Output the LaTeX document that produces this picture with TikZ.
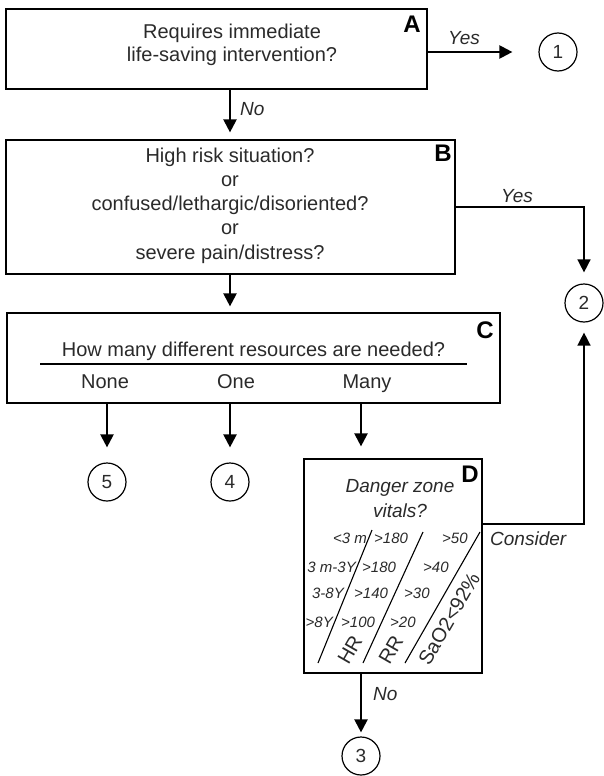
\documentclass[tikz,border=0pt]{standalone}
\usepackage{fontspec}
\setmainfont{Liberation Sans}
\usetikzlibrary{arrows.meta}
\definecolor{txt}{HTML}{2A2A2A}
\begin{document}
\begin{tikzpicture}[x=1pt,y=-1pt,
  box/.style={draw=black, line width=1.2pt, inner sep=0pt, rectangle},
  txt/.style={text=txt, font=\fontsize{20}{24}\selectfont, inner sep=0pt, anchor=base},
  lab/.style={font=\fontsize{24}{24}\selectfont\bfseries, inner sep=0pt, anchor=base},
  yn/.style={text=txt, font=\fontsize{19}{19}\selectfont\itshape, inner sep=0pt, anchor=base west},
  rowl/.style={text=txt, font=\fontsize{15}{15}\selectfont\itshape, inner sep=0pt, anchor=base east},
  rowr/.style={text=txt, font=\fontsize{15}{15}\selectfont\itshape, inner sep=0pt, anchor=base west},
  rot/.style={text=txt, font=\fontsize{20}{20}\selectfont, inner sep=0pt, rotate=60},
  endc/.style={circle, draw=black, line width=1.2pt, minimum size=38pt, inner sep=0pt, font=\fontsize{19}{19}\selectfont, text=txt},
  arr/.style={line width=2.2pt, -{Triangle[length=13pt,width=13pt]}},
  thinarr/.style={line width=1.5pt, -{Triangle[length=13pt,width=13pt]}}]
\useasboundingbox (0,0) rectangle (603,776);

% boxes
\node[box, minimum width=421pt, minimum height=80pt] (A) at (216.5,49) {};
\node[box, minimum width=449pt, minimum height=134pt] (B) at (230.5,207) {};
\node[box, minimum width=493pt, minimum height=90pt] (C) at (253.5,358) {};
\node[box, minimum width=178pt, minimum height=214pt] (D) at (393,566) {};

% end circles
\node[endc] (c1) at (558,52) {1};
\node[endc] (c2) at (584,303) {2};
\node[endc] (c5) at (107,482) {5};
\node[endc] (c4) at (230,482) {4};
\node[endc] (c3) at (361,756) {3};
\coordinate (colx) at (230,0);

% box letters
\node[lab] (LA) at (412,33) {A};
\node[lab] (LB) at (443,161) {B};
\node[lab] (LC) at (485,338) {C};
\node[lab] (LD) at (470,482) {D};

% box A text
\node[txt] (a1) at (232,39) {Requires immediate};
\node[txt] (a2) at (232,62) {life-saving intervention?};

% box B text
\node[txt] (b1) at (230,162) {High risk situation?};
\node[txt] (b2) at (230,186) {or};
\node[txt] (b3) at (230,210) {confused/lethargic/disoriented?};
\node[txt] (b4) at (230,234) {or};
\node[txt] (b5) at (230,259) {severe pain/distress?};

% box C text
\node[txt] (c0) at (253.5,356) {How many different resources are needed?};
\draw[line width=1.2pt] (40,364) -- (467,364);
\node[txt] (cn) at (105,388) {None};
\node[txt] (co) at (236,388) {One};
\node[txt] (cm) at (367,388) {Many};

% box D contents
\node[txt, font=\fontsize{19}{19}\selectfont\itshape] (d1) at (400,492) {Danger zone};
\node[txt, font=\fontsize{19}{19}\selectfont\itshape] (d2) at (400,517) {vitals?};
\draw[line width=1.1pt] (318,663) -- (372,530);
\draw[line width=1.1pt] (363,663) -- (423,532);
\draw[line width=1.1pt] (405,663) -- (480,532);
\node[rowl] (r1a) at (367,543) {<3 m};
\node[rowr] (r1b) at (374,543) {>180};
\node[rowr] (r1c) at (442,543) {>50};
\node[rowl] (r2a) at (356,572) {3 m-3Y};
\node[rowr] (r2b) at (362,572) {>180};
\node[rowr] (r2c) at (423,572) {>40};
\node[rowl] (r3a) at (344,598) {3-8Y};
\node[rowr] (r3b) at (354,598) {>140};
\node[rowr] (r3c) at (404,598) {>30};
\node[rowl] (r4a) at (333,627) {>8Y};
\node[rowr] (r4b) at (341,627) {>100};
\node[rowr] (r4c) at (390,627) {>20};
\node[rot] (hr) at (350,650) {HR};
\node[rot] (rr) at (391,650) {RR};
\node[rot] (sa) at (449,619) {SaO2<92\%};

% connectors
\draw[arr, shorten >=26pt] (A.east |- c1) -- (c1);
\node[yn] (yesA) at (448,45) {Yes};
\draw[arr, shorten >=7pt] (A.south -| colx) -- (B.north -| colx);
\node[yn] (noA) at (240,115) {No};
\draw[thinarr, shorten >=11pt] (B.east) -| (c2);
\node[yn] (yesB) at (501,202) {Yes};
\draw[arr, shorten >=6pt] (B.south -| colx) -- (C.north -| colx);
\draw[arr, shorten >=15pt] (C.south -| c5) -- (c5);
\draw[arr, shorten >=15pt] (C.south -| c4) -- (c4);
\draw[arr, shorten >=12pt] (C.south -| c3) -- (D.north -| c3);
\draw[thinarr, shorten >=10pt] ([yshift=42pt]D.east) -| (c2);
\node[yn] (cons) at (490,545) {Consider};
\draw[arr, shorten >=4pt] (D.south -| c3) -- (c3);
\node[yn] (noD) at (373,700) {No};
\end{tikzpicture}
\end{document}
